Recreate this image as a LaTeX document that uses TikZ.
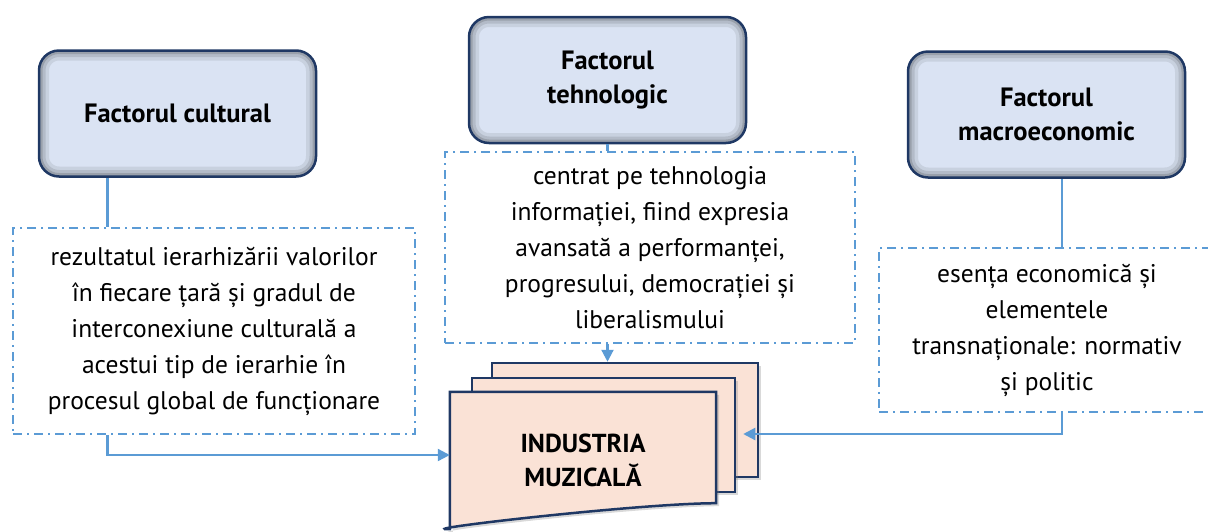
\documentclass[tikz,border=0pt]{standalone}
\usepackage{fontspec}
\setmainfont{PT Sans}
\usetikzlibrary{positioning,shadows,arrows.meta}
\definecolor{linkblue}{RGB}{91,155,213}
\definecolor{navyedge}{RGB}{31,56,100}
\definecolor{factorfill}{RGB}{218,227,243}
\definecolor{docfill}{RGB}{250,226,214}
\begin{document}
\begin{tikzpicture}[x=1pt,y=-1pt,
		factorbox/.style={rectangle,rounded corners=20pt,draw=navyedge,line width=2.5pt,
			fill=factorfill,minimum width=277pt,minimum height=126pt,align=center,
			font=\fontsize{26.5}{34}\selectfont\bfseries,
			path picture={\foreach \w/\o in {20pt/0.08,13pt/0.10,7pt/0.14}{
				\draw[line width=\w,black,opacity=\o,rounded corners=20pt]
				(path picture bounding box.south west) rectangle (path picture bounding box.north east);}}},
		descbox/.style={rectangle,draw=linkblue,line width=1.8pt,
			dash pattern=on 9pt off 5pt on 2pt off 5pt,align=center,
			font=\fontsize{25.5}{36}\selectfont},
		docpage/.style={draw=navyedge,line width=2.5pt,fill=docfill,
			drop shadow={opacity=0.3,shadow xshift=3pt,shadow yshift=-3pt}},
		link/.style={draw=linkblue,line width=2.2pt},
		linkarrow/.style={link,-{Triangle[length=12pt,width=12pt]}}
		]
		\useasboundingbox (0,0) rectangle (1208,531);
		
		% factors
		\node[factorbox](cult) at (177.5,113.5){Factorul cultural};
		\node[factorbox](tech) at (607.5,80){Factorul\\tehnologic};
		\node[factorbox](macro) at (1046.5,114.5){Factorul\\macroeconomic};
		
		% descriptions
		\node[descbox, minimum width=402pt, minimum height=206pt](desccult) at (214,331)
		{rezultatul ierarhizării valorilor\\în fiecare țară și gradul de\\interconexiune culturală a\\acestui tip de ierarhie în\\procesul global de funcționare};
		\node[descbox, minimum width=410pt, minimum height=191pt](desctech) at (650,247.5)
		{centrat pe tehnologia\\informației, fiind expresia\\avansată a performanței,\\progresului, democrației și\\liberalismului};
		\node[descbox, minimum width=336pt, minimum height=164pt](descmacro) at (1047,330)
		{esența economică și\\elementele\\transnaționale: normativ\\și politic};
		
		% industria muzicala
		\node[docpage, minimum width=266pt, minimum height=114pt](backdoc) at (625,420){};
		\node[docpage, minimum width=263pt, minimum height=114pt](middoc) at (603.5,435){};
		\node[minimum width=266pt, minimum height=111pt](frontdoc) at (583,447.5){};
		\draw[docpage] (frontdoc.north west) -- (frontdoc.north east) -- (frontdoc.south east)
		.. controls ([xshift=-76pt]frontdoc.south east) and ([xshift=-43pt,yshift=-27pt]frontdoc.south west)
		.. ([yshift=-26pt]frontdoc.south west) -- cycle;
		\node[align=center, font=\fontsize{26}{34}\selectfont\bfseries, yshift=-12.5pt](ind) at (frontdoc)
		{INDUSTRIA\\MUZICALĂ};
		
		% connectors
		\draw[link] ([xshift=-70pt]cult.south) -- ([xshift=-70pt]cult.south |- desccult.north);
		\draw[linkarrow] ([xshift=-70pt]cult.south |- desccult.south) |- ([yshift=-7.5pt]frontdoc.west);
		\draw[link] (tech.south) -- (tech.south |- desctech.north);
		\draw[linkarrow] (desctech.south -| tech) -- (backdoc.north -| tech);
		\draw[link] ([xshift=15.5pt]macro.south) -- ([xshift=15.5pt]macro.south |- descmacro.north);
		\draw[linkarrow] ([xshift=15pt]descmacro.south) |- ([xshift=-16pt,yshift=-14pt]backdoc.east);
	\end{tikzpicture}
\end{document}
